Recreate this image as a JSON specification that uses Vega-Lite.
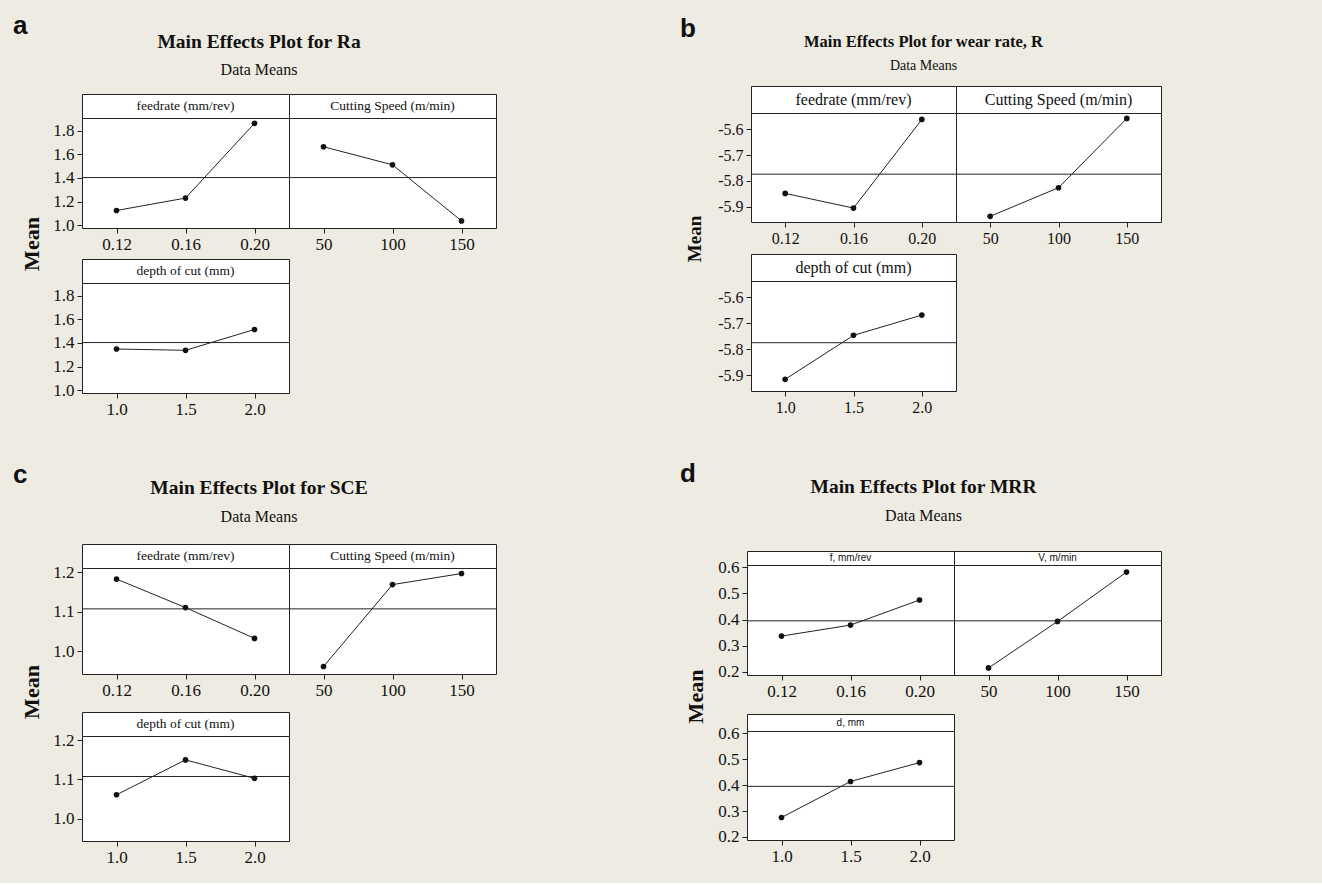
{
"$schema":"https://vega.github.io/schema/vega-lite/v6.json",
"padding":{"left":13,"top":13,"right":161,"bottom":17},
"spacing":42,
"datasets":{
"ra":[{"factor":"feed","level":"0.12","mean":1.125},{"factor":"feed","level":"0.16","mean":1.23},{"factor":"feed","level":"0.20","mean":1.862},{"factor":"speed","level":"50","mean":1.664},{"factor":"speed","level":"100","mean":1.511},{"factor":"speed","level":"150","mean":1.037},{"factor":"depth","level":"1.0","mean":1.349},{"factor":"depth","level":"1.5","mean":1.338},{"factor":"depth","level":"2.0","mean":1.514}],
"wr":[{"factor":"feed","level":"0.12","mean":-5.849},{"factor":"feed","level":"0.16","mean":-5.906},{"factor":"feed","level":"0.20","mean":-5.562},{"factor":"speed","level":"50","mean":-5.938},{"factor":"speed","level":"100","mean":-5.827},{"factor":"speed","level":"150","mean":-5.558},{"factor":"depth","level":"1.0","mean":-5.915},{"factor":"depth","level":"1.5","mean":-5.746},{"factor":"depth","level":"2.0","mean":-5.668}],
"sce":[{"factor":"feed","level":"0.12","mean":1.183},{"factor":"feed","level":"0.16","mean":1.111},{"factor":"feed","level":"0.20","mean":1.033},{"factor":"speed","level":"50","mean":0.962},{"factor":"speed","level":"100","mean":1.169},{"factor":"speed","level":"150","mean":1.197},{"factor":"depth","level":"1.0","mean":1.061},{"factor":"depth","level":"1.5","mean":1.150},{"factor":"depth","level":"2.0","mean":1.103}],
"mrr":[{"factor":"feed","level":"0.12","mean":0.337},{"factor":"feed","level":"0.16","mean":0.379},{"factor":"feed","level":"0.20","mean":0.475},{"factor":"speed","level":"50","mean":0.215},{"factor":"speed","level":"100","mean":0.393},{"factor":"speed","level":"150","mean":0.582},{"factor":"depth","level":"1.0","mean":0.275},{"factor":"depth","level":"1.5","mean":0.414},{"factor":"depth","level":"2.0","mean":0.487}]
},
"vconcat":[
{"spacing":183,"hconcat":[
{
 "title":{"text":"a","anchor":"start","font":"Liberation Sans","fontSize":26,"fontWeight":"bold","color":"#111","offset":-7.5,"dx":-8},
 "vconcat":[{
  "title":{"text":"Main Effects Plot for Ra","subtitle":"Data Means","anchor":"middle","font":"Liberation Serif","fontSize":19.5,"fontWeight":"bold","color":"#111","subtitleFont":"Liberation Serif","subtitleFontSize":16,"subtitleColor":"#111","subtitlePadding":10,"offset":3},
  "spacing":0,
  "vconcat":[
   {"width":1,"height":4,"view":{"fill":"#EEEBE2","stroke":null},"data":{"values":[{}]},"mark":{"type":"text"},"encoding":{"text":{"value":""}}},
   {"spacing":9,"hconcat":[
    {"width":20,"height":300,"view":{"stroke":null,"fill":null},"data":{"values":[{"t":"Mean"}]},"mark":{"type":"text","angle":270,"font":"Liberation Serif","fontSize":22,"fontWeight":"bold","color":"#111"},"encoding":{"text":{"field":"t"}}},
    {"spacing":5,"vconcat":[
     {"columns":2,"spacing":0,"bounds":"flush","concat":[
      {"width":207,"height":24,"view":{"stroke":"#222","fill":"white"},"data":{"values":[{"lab":"feedrate (mm/rev)"}]},"mark":{"type":"text","font":"Liberation Serif","fontSize":13.5,"color":"#111"},"encoding":{"text":{"field":"lab"}}},
      {"width":207,"height":24,"view":{"stroke":"#222","fill":"white"},"data":{"values":[{"lab":"Cutting Speed (m/min)"}]},"mark":{"type":"text","font":"Liberation Serif","fontSize":13.5,"color":"#111"},"encoding":{"text":{"field":"lab"}}},
      {"width":207,"height":110,"data":{"name":"ra"},"layer":[
       {"mark":{"type":"rule","color":"#222","strokeWidth":1},"encoding":{"y":{"aggregate":"mean","field":"mean","type":"quantitative","title":null,"scale":{"domain":[0.977,1.907],"nice":false,"zero":false},"axis":{"values":[1.0,1.2,1.4,1.6,1.8],"tickCount":10,"format":".1f","labelOverlap":false}}}},
       {"transform":[{"filter":"datum.factor=='feed'"}],"mark":{"type":"line","color":"#222","strokeWidth":1},"encoding":{"x":{"field":"level","type":"ordinal","title":null,"scale":{"type":"point","padding":0.5,"domain":["0.12","0.16","0.20"]},"axis":{"labelAngle":0}},"y":{"field":"mean","type":"quantitative","title":null}}},
       {"transform":[{"filter":"datum.factor=='feed'"}],"mark":{"type":"point","filled":true,"color":"#111","opacity":1,"size":32},"encoding":{"x":{"field":"level","type":"ordinal","title":null},"y":{"field":"mean","type":"quantitative","title":null}}}
      ]},
      {"width":207,"height":110,"data":{"name":"ra"},"layer":[
       {"mark":{"type":"rule","color":"#222","strokeWidth":1},"encoding":{"y":{"aggregate":"mean","field":"mean","type":"quantitative","title":null,"scale":{"domain":[0.977,1.907],"nice":false,"zero":false},"axis":null}}},
       {"transform":[{"filter":"datum.factor=='speed'"}],"mark":{"type":"line","color":"#222","strokeWidth":1},"encoding":{"x":{"field":"level","type":"ordinal","title":null,"scale":{"type":"point","padding":0.5,"domain":["50","100","150"]},"axis":{"labelAngle":0}},"y":{"field":"mean","type":"quantitative","title":null,"axis":null}}},
       {"transform":[{"filter":"datum.factor=='speed'"}],"mark":{"type":"point","filled":true,"color":"#111","opacity":1,"size":32},"encoding":{"x":{"field":"level","type":"ordinal","title":null},"y":{"field":"mean","type":"quantitative","title":null,"axis":null}}}
      ]}
     ]},
     {"spacing":0,"bounds":"flush","vconcat":[
      {"width":207,"height":24,"view":{"stroke":"#222","fill":"white"},"data":{"values":[{"lab":"depth of cut (mm)"}]},"mark":{"type":"text","font":"Liberation Serif","fontSize":13.5,"color":"#111"},"encoding":{"text":{"field":"lab"}}},
      {"width":207,"height":110,"data":{"name":"ra"},"layer":[
       {"mark":{"type":"rule","color":"#222","strokeWidth":1},"encoding":{"y":{"aggregate":"mean","field":"mean","type":"quantitative","title":null,"scale":{"domain":[0.977,1.907],"nice":false,"zero":false},"axis":{"values":[1.0,1.2,1.4,1.6,1.8],"tickCount":10,"format":".1f","labelOverlap":false}}}},
       {"transform":[{"filter":"datum.factor=='depth'"}],"mark":{"type":"line","color":"#222","strokeWidth":1},"encoding":{"x":{"field":"level","type":"ordinal","title":null,"scale":{"type":"point","padding":0.5,"domain":["1.0","1.5","2.0"]},"axis":{"labelAngle":0}},"y":{"field":"mean","type":"quantitative","title":null}}},
       {"transform":[{"filter":"datum.factor=='depth'"}],"mark":{"type":"point","filled":true,"color":"#111","opacity":1,"size":32},"encoding":{"x":{"field":"level","type":"ordinal","title":null},"y":{"field":"mean","type":"quantitative","title":null}}}
      ]}
     ]}
    ]}
   ]}
  ]
 }]
},
{
 "title":{"text":"b","anchor":"start","font":"Liberation Sans","fontSize":26,"fontWeight":"bold","color":"#111","offset":-8,"dx":-5},
 "vconcat":[{
  "title":{"text":"Main Effects Plot for wear rate, R","subtitle":"Data Means","anchor":"middle","font":"Liberation Serif","fontSize":16.5,"fontWeight":"bold","color":"#111","subtitleFont":"Liberation Serif","subtitleFontSize":14,"subtitleColor":"#111","subtitlePadding":8,"offset":13},
  "spacing":12,
  "hconcat":[
   {"width":20,"height":306,"view":{"stroke":null,"fill":null},"data":{"values":[{"t":"Mean"}]},"mark":{"type":"text","angle":270,"font":"Liberation Serif","fontSize":19,"fontWeight":"bold","color":"#111"},"encoding":{"text":{"field":"t"}}},
   {"spacing":6,"vconcat":[
    {"columns":2,"spacing":0,"bounds":"flush","concat":[
      {"width":205,"height":27,"view":{"stroke":"#222","fill":"white"},"data":{"values":[{"lab":"feedrate (mm/rev)"}]},"mark":{"type":"text","font":"Liberation Serif","fontSize":16,"color":"#111"},"encoding":{"text":{"field":"lab"}}},
      {"width":205,"height":27,"view":{"stroke":"#222","fill":"white"},"data":{"values":[{"lab":"Cutting Speed (m/min)"}]},"mark":{"type":"text","font":"Liberation Serif","fontSize":16,"color":"#111"},"encoding":{"text":{"field":"lab"}}},
      {"width":205,"height":109,"data":{"name":"wr"},"layer":[
       {"mark":{"type":"rule","color":"#222","strokeWidth":1},"encoding":{"y":{"aggregate":"mean","field":"mean","type":"quantitative","title":null,"scale":{"domain":[-5.96,-5.537],"nice":false,"zero":false},"axis":{"values":[-5.9,-5.8,-5.7,-5.6],"tickCount":10,"format":".1f","labelExpr":"replace(datum.label,'−','-')","labelFontSize":16,"labelOverlap":false}}}},
       {"transform":[{"filter":"datum.factor=='feed'"}],"mark":{"type":"line","color":"#222","strokeWidth":1},"encoding":{"x":{"field":"level","type":"ordinal","title":null,"scale":{"type":"point","padding":0.5,"domain":["0.12","0.16","0.20"]},"axis":{"labelAngle":0,"labelFontSize":16}},"y":{"field":"mean","type":"quantitative","title":null}}},
       {"transform":[{"filter":"datum.factor=='feed'"}],"mark":{"type":"point","filled":true,"color":"#111","opacity":1,"size":32},"encoding":{"x":{"field":"level","type":"ordinal","title":null},"y":{"field":"mean","type":"quantitative","title":null}}}
      ]},
      {"width":205,"height":109,"data":{"name":"wr"},"layer":[
       {"mark":{"type":"rule","color":"#222","strokeWidth":1},"encoding":{"y":{"aggregate":"mean","field":"mean","type":"quantitative","title":null,"scale":{"domain":[-5.96,-5.537],"nice":false,"zero":false},"axis":null}}},
       {"transform":[{"filter":"datum.factor=='speed'"}],"mark":{"type":"line","color":"#222","strokeWidth":1},"encoding":{"x":{"field":"level","type":"ordinal","title":null,"scale":{"type":"point","padding":0.5,"domain":["50","100","150"]},"axis":{"labelAngle":0,"labelFontSize":16}},"y":{"field":"mean","type":"quantitative","title":null,"axis":null}}},
       {"transform":[{"filter":"datum.factor=='speed'"}],"mark":{"type":"point","filled":true,"color":"#111","opacity":1,"size":32},"encoding":{"x":{"field":"level","type":"ordinal","title":null},"y":{"field":"mean","type":"quantitative","title":null,"axis":null}}}
      ]}
    ]},
    {"spacing":0,"bounds":"flush","vconcat":[
     {"width":205,"height":27,"view":{"stroke":"#222","fill":"white"},"data":{"values":[{"lab":"depth of cut (mm)"}]},"mark":{"type":"text","font":"Liberation Serif","fontSize":16,"color":"#111"},"encoding":{"text":{"field":"lab"}}},
     {"width":205,"height":110,"data":{"name":"wr"},"layer":[
      {"mark":{"type":"rule","color":"#222","strokeWidth":1},"encoding":{"y":{"aggregate":"mean","field":"mean","type":"quantitative","title":null,"scale":{"domain":[-5.96,-5.537],"nice":false,"zero":false},"axis":{"values":[-5.9,-5.8,-5.7,-5.6],"tickCount":10,"format":".1f","labelExpr":"replace(datum.label,'−','-')","labelFontSize":16,"labelOverlap":false}}}},
      {"transform":[{"filter":"datum.factor=='depth'"}],"mark":{"type":"line","color":"#222","strokeWidth":1},"encoding":{"x":{"field":"level","type":"ordinal","title":null,"scale":{"type":"point","padding":0.5,"domain":["1.0","1.5","2.0"]},"axis":{"labelAngle":0,"labelFontSize":16}},"y":{"field":"mean","type":"quantitative","title":null}}},
      {"transform":[{"filter":"datum.factor=='depth'"}],"mark":{"type":"point","filled":true,"color":"#111","opacity":1,"size":32},"encoding":{"x":{"field":"level","type":"ordinal","title":null},"y":{"field":"mean","type":"quantitative","title":null}}}
     ]}
    ]}
   ]}
  ]
 }]
}
]},
{"spacing":183,"hconcat":[
{
 "title":{"text":"c","anchor":"start","font":"Liberation Sans","fontSize":26,"fontWeight":"bold","color":"#111","offset":-10,"dx":-8},
 "vconcat":[{
  "title":{"text":"Main Effects Plot for SCE","subtitle":"Data Means","anchor":"middle","font":"Liberation Serif","fontSize":19.5,"fontWeight":"bold","color":"#111","subtitleFont":"Liberation Serif","subtitleFontSize":16,"subtitleColor":"#111","subtitlePadding":10,"offset":18},
  "spacing":9,
  "hconcat":[
   {"width":20,"height":296,"view":{"stroke":null,"fill":null},"data":{"values":[{"t":"Mean"}]},"mark":{"type":"text","angle":270,"font":"Liberation Serif","fontSize":22,"fontWeight":"bold","color":"#111"},"encoding":{"text":{"field":"t"}}},
   {"spacing":12,"vconcat":[
    {"columns":2,"spacing":0,"bounds":"flush","concat":[
      {"width":207,"height":24,"view":{"stroke":"#222","fill":"white"},"data":{"values":[{"lab":"feedrate (mm/rev)"}]},"mark":{"type":"text","font":"Liberation Serif","fontSize":13.5,"color":"#111"},"encoding":{"text":{"field":"lab"}}},
      {"width":207,"height":24,"view":{"stroke":"#222","fill":"white"},"data":{"values":[{"lab":"Cutting Speed (m/min)"}]},"mark":{"type":"text","font":"Liberation Serif","fontSize":13.5,"color":"#111"},"encoding":{"text":{"field":"lab"}}},
      {"width":207,"height":106,"data":{"name":"sce"},"layer":[
       {"mark":{"type":"rule","color":"#222","strokeWidth":1},"encoding":{"y":{"aggregate":"mean","field":"mean","type":"quantitative","title":null,"scale":{"domain":[0.943,1.211],"nice":false,"zero":false},"axis":{"values":[1.0,1.1,1.2],"tickCount":10,"format":".1f","labelOverlap":false}}}},
       {"transform":[{"filter":"datum.factor=='feed'"}],"mark":{"type":"line","color":"#222","strokeWidth":1},"encoding":{"x":{"field":"level","type":"ordinal","title":null,"scale":{"type":"point","padding":0.5,"domain":["0.12","0.16","0.20"]},"axis":{"labelAngle":0}},"y":{"field":"mean","type":"quantitative","title":null}}},
       {"transform":[{"filter":"datum.factor=='feed'"}],"mark":{"type":"point","filled":true,"color":"#111","opacity":1,"size":32},"encoding":{"x":{"field":"level","type":"ordinal","title":null},"y":{"field":"mean","type":"quantitative","title":null}}}
      ]},
      {"width":207,"height":106,"data":{"name":"sce"},"layer":[
       {"mark":{"type":"rule","color":"#222","strokeWidth":1},"encoding":{"y":{"aggregate":"mean","field":"mean","type":"quantitative","title":null,"scale":{"domain":[0.943,1.211],"nice":false,"zero":false},"axis":null}}},
       {"transform":[{"filter":"datum.factor=='speed'"}],"mark":{"type":"line","color":"#222","strokeWidth":1},"encoding":{"x":{"field":"level","type":"ordinal","title":null,"scale":{"type":"point","padding":0.5,"domain":["50","100","150"]},"axis":{"labelAngle":0}},"y":{"field":"mean","type":"quantitative","title":null,"axis":null}}},
       {"transform":[{"filter":"datum.factor=='speed'"}],"mark":{"type":"point","filled":true,"color":"#111","opacity":1,"size":32},"encoding":{"x":{"field":"level","type":"ordinal","title":null},"y":{"field":"mean","type":"quantitative","title":null,"axis":null}}}
      ]}
    ]},
    {"spacing":0,"bounds":"flush","vconcat":[
     {"width":207,"height":24,"view":{"stroke":"#222","fill":"white"},"data":{"values":[{"lab":"depth of cut (mm)"}]},"mark":{"type":"text","font":"Liberation Serif","fontSize":13.5,"color":"#111"},"encoding":{"text":{"field":"lab"}}},
     {"width":207,"height":105,"data":{"name":"sce"},"layer":[
      {"mark":{"type":"rule","color":"#222","strokeWidth":1},"encoding":{"y":{"aggregate":"mean","field":"mean","type":"quantitative","title":null,"scale":{"domain":[0.943,1.211],"nice":false,"zero":false},"axis":{"values":[1.0,1.1,1.2],"tickCount":10,"format":".1f","labelOverlap":false}}}},
      {"transform":[{"filter":"datum.factor=='depth'"}],"mark":{"type":"line","color":"#222","strokeWidth":1},"encoding":{"x":{"field":"level","type":"ordinal","title":null,"scale":{"type":"point","padding":0.5,"domain":["1.0","1.5","2.0"]},"axis":{"labelAngle":0}},"y":{"field":"mean","type":"quantitative","title":null}}},
      {"transform":[{"filter":"datum.factor=='depth'"}],"mark":{"type":"point","filled":true,"color":"#111","opacity":1,"size":32},"encoding":{"x":{"field":"level","type":"ordinal","title":null},"y":{"field":"mean","type":"quantitative","title":null}}}
     ]}
    ]}
   ]}
  ]
 }]
},
{
 "title":{"text":"d","anchor":"start","font":"Liberation Sans","fontSize":26,"fontWeight":"bold","color":"#111","offset":-9.5,"dx":-5},
 "vconcat":[{
  "title":{"text":"Main Effects Plot for MRR","subtitle":"Data Means","anchor":"middle","font":"Liberation Serif","fontSize":19.5,"fontWeight":"bold","color":"#111","subtitleFont":"Liberation Serif","subtitleFontSize":16,"subtitleColor":"#111","subtitlePadding":10,"offset":14.5},
  "spacing":0,
  "vconcat":[
   {"width":1,"height":2,"view":{"fill":"#EEEBE2","stroke":null},"data":{"values":[{}]},"mark":{"type":"text"},"encoding":{"text":{"value":""}}},
   {"spacing":10,"hconcat":[
    {"width":20,"height":291,"view":{"stroke":null,"fill":null},"data":{"values":[{"t":"Mean"}]},"mark":{"type":"text","angle":270,"font":"Liberation Serif","fontSize":22,"fontWeight":"bold","color":"#111"},"encoding":{"text":{"field":"t"}}},
    {"spacing":13,"vconcat":[
     {"columns":2,"spacing":0,"bounds":"flush","concat":[
      {"width":207,"height":14,"view":{"stroke":"#222","fill":"white"},"data":{"values":[{"lab":"f, mm/rev"}]},"mark":{"type":"text","font":"Liberation Sans","fontSize":10,"color":"#111"},"encoding":{"text":{"field":"lab"}}},
      {"width":207,"height":14,"view":{"stroke":"#222","fill":"white"},"data":{"values":[{"lab":"V, m/min"}]},"mark":{"type":"text","font":"Liberation Sans","fontSize":10,"color":"#111"},"encoding":{"text":{"field":"lab"}}},
      {"width":207,"height":110,"data":{"name":"mrr"},"layer":[
       {"mark":{"type":"rule","color":"#222","strokeWidth":1},"encoding":{"y":{"aggregate":"mean","field":"mean","type":"quantitative","title":null,"scale":{"domain":[0.188,0.609],"nice":false,"zero":false},"axis":{"values":[0.2,0.3,0.4,0.5,0.6],"tickCount":10,"format":".1f","labelOverlap":false}}}},
       {"transform":[{"filter":"datum.factor=='feed'"}],"mark":{"type":"line","color":"#222","strokeWidth":1},"encoding":{"x":{"field":"level","type":"ordinal","title":null,"scale":{"type":"point","padding":0.5,"domain":["0.12","0.16","0.20"]},"axis":{"labelAngle":0}},"y":{"field":"mean","type":"quantitative","title":null}}},
       {"transform":[{"filter":"datum.factor=='feed'"}],"mark":{"type":"point","filled":true,"color":"#111","opacity":1,"size":32},"encoding":{"x":{"field":"level","type":"ordinal","title":null},"y":{"field":"mean","type":"quantitative","title":null}}}
      ]},
      {"width":207,"height":110,"data":{"name":"mrr"},"layer":[
       {"mark":{"type":"rule","color":"#222","strokeWidth":1},"encoding":{"y":{"aggregate":"mean","field":"mean","type":"quantitative","title":null,"scale":{"domain":[0.188,0.609],"nice":false,"zero":false},"axis":null}}},
       {"transform":[{"filter":"datum.factor=='speed'"}],"mark":{"type":"line","color":"#222","strokeWidth":1},"encoding":{"x":{"field":"level","type":"ordinal","title":null,"scale":{"type":"point","padding":0.5,"domain":["50","100","150"]},"axis":{"labelAngle":0}},"y":{"field":"mean","type":"quantitative","title":null,"axis":null}}},
       {"transform":[{"filter":"datum.factor=='speed'"}],"mark":{"type":"point","filled":true,"color":"#111","opacity":1,"size":32},"encoding":{"x":{"field":"level","type":"ordinal","title":null},"y":{"field":"mean","type":"quantitative","title":null,"axis":null}}}
      ]}
     ]},
     {"spacing":0,"bounds":"flush","vconcat":[
      {"width":207,"height":17,"view":{"stroke":"#222","fill":"white"},"data":{"values":[{"lab":"d, mm"}]},"mark":{"type":"text","font":"Liberation Sans","fontSize":10,"color":"#111"},"encoding":{"text":{"field":"lab"}}},
      {"width":207,"height":109,"data":{"name":"mrr"},"layer":[
       {"mark":{"type":"rule","color":"#222","strokeWidth":1},"encoding":{"y":{"aggregate":"mean","field":"mean","type":"quantitative","title":null,"scale":{"domain":[0.188,0.609],"nice":false,"zero":false},"axis":{"values":[0.2,0.3,0.4,0.5,0.6],"tickCount":10,"format":".1f","labelOverlap":false}}}},
       {"transform":[{"filter":"datum.factor=='depth'"}],"mark":{"type":"line","color":"#222","strokeWidth":1},"encoding":{"x":{"field":"level","type":"ordinal","title":null,"scale":{"type":"point","padding":0.5,"domain":["1.0","1.5","2.0"]},"axis":{"labelAngle":0}},"y":{"field":"mean","type":"quantitative","title":null}}},
       {"transform":[{"filter":"datum.factor=='depth'"}],"mark":{"type":"point","filled":true,"color":"#111","opacity":1,"size":32},"encoding":{"x":{"field":"level","type":"ordinal","title":null},"y":{"field":"mean","type":"quantitative","title":null}}}
      ]}
     ]}
    ]}
   ]}
  ]
 }]
}
]}
],
"config":{
 "background":"#EEEBE2",
 "view":{"stroke":"#222","fill":"white","strokeWidth":1},
 "axis":{"domain":false,"grid":false,"tickColor":"#222","tickSize":5,"labelFont":"Liberation Serif","labelFontSize":17,"labelColor":"#111","labelPadding":3,"labelOverlap":false},
 "scale":{"pointPadding":0.5}
}
}
